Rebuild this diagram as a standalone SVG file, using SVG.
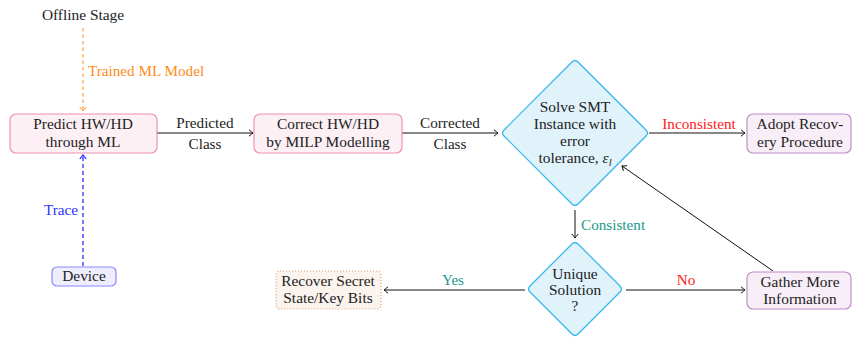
<svg xmlns="http://www.w3.org/2000/svg" width="852" height="337" viewBox="0 0 852 337">
  <style>
    text { font-family: "Liberation Serif", "DejaVu Serif", serif; font-size: 15.4px; fill: #222; text-anchor: middle; }
    .lbl { font-size: 15.2px; }
    .orange { fill: #ff8c1a; }
    .blue { fill: #3030ff; }
    .red { fill: #ff2020; }
    .teal { fill: #1a998a; }
    .pink { fill: #fdf0f4; stroke: #f090b4; stroke-width: 1.2; }
    .dev { fill: #eeeeff; stroke: #8888ff; stroke-width: 1.2; }
    .dia { fill: #e0f2fa; stroke: #2fb4ee; stroke-width: 1.2; stroke-linejoin: round; }
    .purp { fill: #f8eef8; stroke: #c08ccc; stroke-width: 1.2; }
    .rec { fill: #faf3ee; stroke: #dca27a; stroke-width: 1.2; stroke-dasharray: 1 2; }
    .edge { fill: none; stroke: #111; stroke-width: 1; }
    .dash-o { fill: none; stroke: #ff8c1a; stroke-width: 1; stroke-dasharray: 3.5 3; }
    .dash-b { fill: none; stroke: #1a1aff; stroke-width: 1.2; stroke-dasharray: 4 3; }
  </style>
  <defs>
    <marker id="arrO" viewBox="-6 -4 8 8" markerWidth="8" markerHeight="8" refX="0" refY="0" orient="auto" markerUnits="userSpaceOnUse">
      <path d="M-4,-3.2 Q-1,-0.8 0,0 Q-1,0.8 -4,3.2" fill="none" stroke="#ff8c1a" stroke-width="1"/>
    </marker>
    <marker id="arrB" viewBox="-6 -4 8 8" markerWidth="8" markerHeight="8" refX="0" refY="0" orient="auto" markerUnits="userSpaceOnUse">
      <path d="M-4,-3.2 Q-1,-0.8 0,0 Q-1,0.8 -4,3.2" fill="none" stroke="#1a1aff" stroke-width="1.2"/>
    </marker>
    <marker id="arrK" viewBox="-6 -4 8 8" markerWidth="8" markerHeight="8" refX="0" refY="0" orient="auto" markerUnits="userSpaceOnUse">
      <path d="M-4,-3.2 Q-1,-0.8 0,0 Q-1,0.8 -4,3.2" fill="none" stroke="#111" stroke-width="1"/>
    </marker>
  </defs>

  <!-- connectors -->
  <g id="connectors">
    <line class="dash-o" x1="83" y1="28" x2="83" y2="111" marker-end="url(#arrO)"/>
    <text class="lbl orange" x="88" y="76" style="text-anchor:start">Trained ML Model</text>

    <line class="dash-b" x1="83" y1="266" x2="83" y2="155" marker-end="url(#arrB)"/>
    <text class="lbl blue" x="78" y="215" style="text-anchor:end">Trace</text>

    <line class="edge" x1="157" y1="133" x2="253" y2="133" marker-end="url(#arrK)"/>
    <text class="lbl" x="205" y="128">Predicted</text>
    <text class="lbl" x="205" y="149">Class</text>

    <line class="edge" x1="402" y1="133" x2="498" y2="133" marker-end="url(#arrK)"/>
    <text class="lbl" x="450" y="128">Corrected</text>
    <text class="lbl" x="450" y="149">Class</text>

    <line class="edge" x1="649" y1="133" x2="745" y2="133" marker-end="url(#arrK)"/>
    <text class="lbl red" x="699" y="129">Inconsistent</text>

    <line class="edge" x1="575" y1="210" x2="575" y2="238" marker-end="url(#arrK)"/>
    <text class="lbl teal" x="581" y="230" style="text-anchor:start">Consistent</text>

    <line class="edge" x1="525" y1="290" x2="384" y2="290" marker-end="url(#arrK)"/>
    <text class="lbl teal" x="453" y="285">Yes</text>

    <line class="edge" x1="626" y1="290" x2="745" y2="290" marker-end="url(#arrK)"/>
    <text class="lbl red" x="686" y="285">No</text>

    <line class="edge" x1="773" y1="271" x2="622" y2="166" marker-end="url(#arrK)"/>
  </g>

  <!-- nodes -->
  <g id="offline">
    <text x="83" y="20">Offline Stage</text>
  </g>

  <g id="predict">
    <rect class="pink" x="10" y="114" width="147" height="39" rx="6"/>
    <text x="83" y="129">Predict HW/HD</text>
    <text x="83" y="147">through ML</text>
  </g>

  <g id="device">
    <rect class="dev" x="52" y="267" width="64" height="19" rx="5"/>
    <text x="84" y="281">Device</text>
  </g>

  <g id="correct">
    <rect class="pink" x="254" y="114" width="148" height="39" rx="6"/>
    <text x="328" y="129">Correct HW/HD</text>
    <text x="328" y="147">by MILP Modelling</text>
  </g>

  <g id="solve">
    <path class="dia" d="M572,62 Q575,59 578,62 L646,130 Q649,133 646,136 L578,204 Q575,207 572,204 L504,136 Q501,133 504,130 Z"/>
    <text x="575" y="112">Solve SMT</text>
    <text x="575" y="129">Instance with</text>
    <text x="575" y="146">error</text>
    <text x="575" y="163">tolerance, <tspan font-style="italic">ε</tspan><tspan font-style="italic" font-size="10.5" dy="3">l</tspan></text>
  </g>

  <g id="adopt">
    <rect class="purp" x="747" y="114" width="104" height="39" rx="6"/>
    <text x="800" y="129">Adopt Recov-</text>
    <text x="800" y="147">ery Procedure</text>
  </g>

  <g id="unique">
    <path class="dia" d="M572,244 Q575,241 578,244 L620,286 Q623,289 620,292 L578,334 Q575,337 572,334 L530,292 Q527,289 530,286 Z"/>
    <text x="575" y="279">Unique</text>
    <text x="575" y="295">Solution</text>
    <text x="575" y="311">?</text>
  </g>

  <g id="recover">
    <rect class="rec" x="276" y="271" width="105" height="38" rx="4"/>
    <text x="328" y="286">Recover Secret</text>
    <text x="328" y="303">State/Key Bits</text>
  </g>

  <g id="gather">
    <rect class="purp" x="747" y="272" width="104" height="37" rx="6"/>
    <text x="800" y="287">Gather More</text>
    <text x="800" y="304">Information</text>
  </g>
</svg>
